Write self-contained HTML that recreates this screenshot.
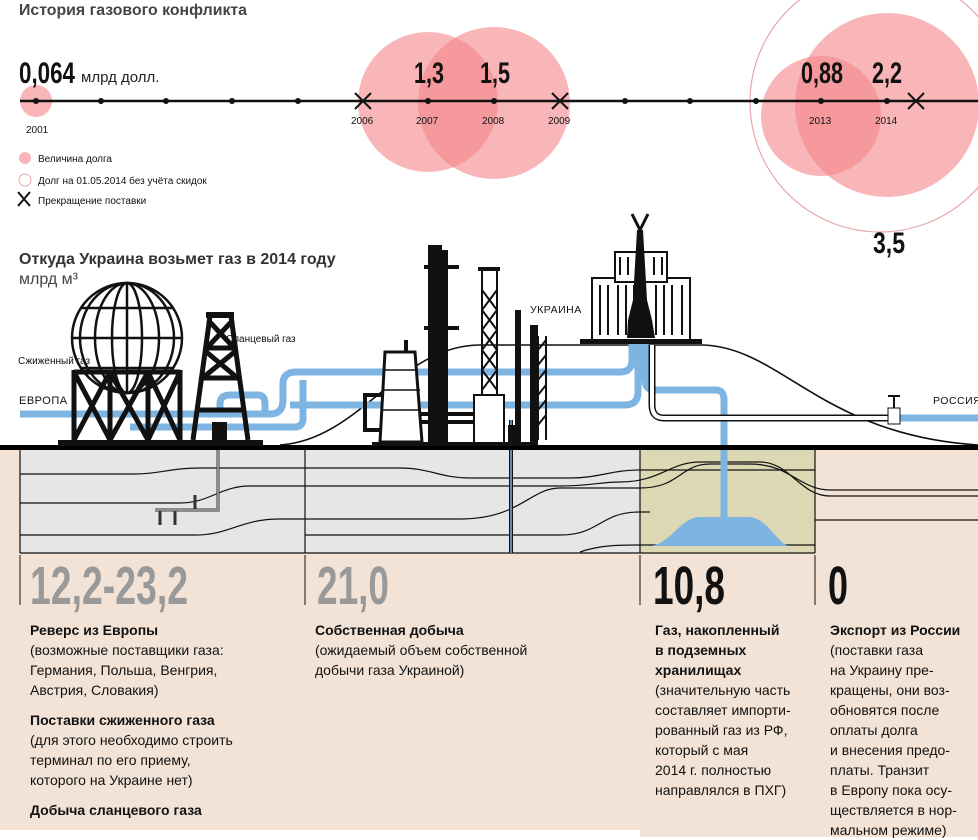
<!DOCTYPE html>
<html><head><meta charset="utf-8"><style>
body{margin:0;width:978px;height:837px;overflow:hidden;background:#fff;font-family:"Liberation Sans",sans-serif;position:relative}
svg{position:absolute;left:0;top:0}
.col{position:absolute;top:620px;font-size:14px;line-height:20px;color:#111}
.col b{display:block}
.col p{margin:0 0 10px 0}
</style></head><body>
<svg width="978" height="837" viewBox="0 0 978 837" font-family="Liberation Sans, sans-serif">
<!-- bottom bg -->
<rect x="0" y="450" width="978" height="387" fill="#f3e3d6"/>
<rect x="0" y="830" width="640" height="7" fill="#fff"/>
<rect x="20" y="450" width="620" height="103" fill="#e6e6e6"/>
<rect x="640" y="450" width="175" height="103" fill="#dcd8b3"/>
<!-- strata -->
<g fill="none" stroke="#111" stroke-width="1.2">
<path d="M20 474 H135 C160 474 170 468 200 468 H305 H400 C430 468 440 478 470 478 H570 C600 478 610 470 640 470 H815"/>
<path d="M20 503 H180 C210 503 220 486 250 486 H305 H560 C590 486 600 482 620 482 C660 482 670 462 700 462 H760 C790 462 800 496 830 496 H978"/>
<path d="M20 535 H195 C230 535 240 519 280 519 H305 H460 C520 519 530 488 560 488 H640 C680 488 680 464 710 464 H750 C790 464 800 490 830 490 H978"/>
<path d="M305 535 H560 C600 535 600 512 640 512 H650"/>
<path d="M815 520 H978"/>
<path d="M580 552 C600 545 620 545 640 545 H815"/>
<path d="M20 553 H815"/>
<path d="M20 450 V553 M305 450 V553 M640 450 V553 M815 450 V553"/>
<path d="M20 555 V605 M305 555 V605 M640 555 V605 M815 555 V605" stroke-width="1"/>
</g>
<!-- storage -->
<path d="M648 546 C670 546 680 517 700 517 H748 C768 517 778 546 790 546 Z" fill="#7db4e2"/>
<!-- hill -->
<path d="M280 445 C360 440 400 345 480 345 H700 C780 345 820 435 978 445" fill="none" stroke="#111" stroke-width="1.6"/>
<!-- pipes -->
<g fill="none" stroke="#7db4e2" stroke-width="7" stroke-linecap="butt">
<path d="M20 414 H270 Q283 414 283 400 V384 Q283 372 296 372 H620 Q632 372 632 360 V340"/>
<path d="M130 427 H295 Q303 427 303 418 V380"/>
<path d="M220 414 V404 Q220 395 230 395 H258 Q265 395 265 404 V414"/>
<path d="M290 405 H625 Q638 405 638 392 V340"/>
<path d="M645 340 V380 Q645 390 655 390 H716 Q724 390 724 400 V518"/>
<path d="M900 418 H978"/>
</g>
<path d="M652 345 V405 Q652 418 664 418 H890" fill="none" stroke="#111" stroke-width="7"/>
<path d="M652 345 V405 Q652 418 664 418 H890" fill="none" stroke="#fff" stroke-width="4"/>
<rect x="888" y="408" width="12" height="16" fill="#fff" stroke="#111"/>
<path d="M894 408 V396 M888 396 H900" stroke="#111" stroke-width="2"/>
<!-- shale pipe -->
<path d="M218 430 V510 H155 M195 510 V495 M175 510 V525 M160 510 V525" fill="none" stroke="#333" stroke-width="3"/>
<path d="M218 430 V510 H155" fill="none" stroke="#dfe6ee" stroke-width="1"/>
<path d="M511 420 V553" stroke="#111" stroke-width="4"/>
<path d="M511 420 V553" stroke="#7db4e2" stroke-width="1.5"/>
<!-- ground -->
<rect x="0" y="445" width="978" height="5" fill="#000"/>
<!-- LNG sphere -->
<g fill="none" stroke="#111" stroke-width="2.5">
<circle cx="127" cy="338" r="55"/>
<ellipse cx="127" cy="338" rx="15" ry="55"/>
<ellipse cx="127" cy="338" rx="32" ry="55"/>
<ellipse cx="127" cy="338" rx="47" ry="55"/>
<path d="M127 283 V393 M80 308 H174 M73 338 H181 M80 368 H174"/>
</g>
<g stroke="#111" stroke-width="5" fill="none">
<path d="M74 370 V440 M180 370 V440 M110 370 V440 M148 370 V440"/>
<path d="M74 372 H180 M74 372 L110 440 M110 372 L74 440 M110 372 L148 440 M148 372 L110 440 M148 372 L180 440 M180 372 L148 440"/>
</g>
<rect x="58" y="440" width="205" height="6" fill="#111"/>
<!-- derrick -->
<g stroke="#111" stroke-width="5" fill="none">
<path d="M210 316 L193 440 M231 316 L248 440 M205 348 H236 M201 378 H240 M197 410 H244 M208 320 L236 350 M233 320 L205 350 M204 350 L240 380 M237 350 L200 380"/>
</g>
<rect x="206" y="312" width="28" height="6" fill="#111"/>
<rect x="212" y="422" width="15" height="20" fill="#111"/>
<!-- refinery -->
<g fill="#111">
<rect x="428" y="245" width="14" height="200"/>
<rect x="438" y="250" width="10" height="195"/>
<rect x="424" y="265" width="35" height="4"/>
<rect x="424" y="326" width="35" height="4"/>
<rect x="478" y="267" width="22" height="4"/>
<rect x="372" y="442" width="160" height="4"/>
<rect x="420" y="412" width="60" height="4"/>
<rect x="420" y="420" width="60" height="4"/>
<rect x="365" y="395" width="20" height="35" fill="none" stroke="#111" stroke-width="4"/>
<rect x="404" y="340" width="4" height="14"/>
<rect x="515" y="310" width="6" height="135"/>
<rect x="530" y="325" width="8" height="120"/>
<rect x="508" y="425" width="7" height="20"/>
</g>
<path d="M385 352 H415 L422 442 H380 Z" fill="#fff" stroke="#111" stroke-width="3"/>
<path d="M383 370 H418 M382 390 H420 M381 410 H421" stroke="#111" stroke-width="1.5"/>
<g stroke="#111" stroke-width="2" fill="none">
<path d="M429 250 V440 M441 250 V440"/>
<path d="M482 270 V395 M497 270 V395 M482 290 L497 310 M497 290 L482 310 M482 310 L497 330 M497 310 L482 330 M482 330 L497 350 M497 330 L482 350 M482 350 L497 370 M497 350 L482 370 M482 370 L497 390 M497 370 L482 390"/>
<path d="M538 336 V440 M546 336 V440 M538 350 L546 340 M538 365 L546 355 M538 380 L546 370 M538 395 L546 385 M538 410 L546 400 M538 425 L546 415"/>
</g>
<rect x="474" y="395" width="30" height="48" fill="#fff" stroke="#111" stroke-width="2"/>
<!-- building -->
<rect x="592" y="278" width="98" height="62" fill="#fff" stroke="#111" stroke-width="2"/>
<rect x="615" y="252" width="52" height="30" fill="#fff" stroke="#111" stroke-width="2"/>
<g stroke="#111" stroke-width="2">
<path d="M600 285 V335 M608 285 V335 M618 285 V335 M626 285 V335 M634 285 V335 M656 285 V335 M664 285 V335 M672 285 V335 M682 285 V335 M620 257 V275 M628 257 V275 M654 257 V275 M662 257 V275"/>
</g>
<path d="M637 230 L633 300 L628 320 L627 338 H655 L652 320 L647 300 L643 230 Z" fill="#111"/>
<path d="M640 230 L632 214 M640 230 L648 214" stroke="#111" stroke-width="3"/>
<rect x="580" y="339" width="122" height="5" fill="#111"/>
<!-- labels -->
<g font-size="10" fill="#111">
<text x="18" y="364">Сжиженный газ</text>
<text x="226" y="342">Сланцевый газ</text>
<text x="19" y="404" font-size="11" letter-spacing="0.5">ЕВРОПА</text>
<text x="530" y="313" font-size="10.5" letter-spacing="0.5">УКРАИНА</text>
<text x="933" y="404" font-size="10.5" letter-spacing="0.5">РОССИЯ</text>
</g>
<text x="19" y="264" font-size="16" font-weight="bold" fill="#333">Откуда Украина возьмет газ в 2014 году</text>
<text x="19" y="284" font-size="16" fill="#444">млрд м³</text>
<!-- timeline -->
<text x="19" y="15" font-size="16" font-weight="bold" fill="#444" textLength="228" lengthAdjust="spacingAndGlyphs">История газового конфликта</text>
<g fill="#f4868b" fill-opacity="0.6">
<circle cx="36" cy="101" r="16"/>
<circle cx="428" cy="102" r="70"/>
<circle cx="494" cy="103" r="76"/>
<circle cx="821" cy="116" r="60"/>
<circle cx="887" cy="105" r="92"/>
</g>
<circle cx="880" cy="102" r="130" fill="none" stroke="#e7a6a9" stroke-width="1.2"/>
<line x1="20" y1="101" x2="978" y2="101" stroke="#111" stroke-width="2.5"/>
<g fill="#111">
<circle cx="36" cy="101" r="3"/><circle cx="101" cy="101" r="3"/><circle cx="166" cy="101" r="3"/><circle cx="232" cy="101" r="3"/><circle cx="298" cy="101" r="3"/><circle cx="428" cy="101" r="3"/><circle cx="494" cy="101" r="3"/><circle cx="625" cy="101" r="3"/><circle cx="690" cy="101" r="3"/><circle cx="756" cy="101" r="3"/><circle cx="821" cy="101" r="3"/><circle cx="887" cy="101" r="3"/>
</g>
<g stroke="#111" stroke-width="2">
<path d="M355 93 L371 109 M371 93 L355 109"/>
<path d="M552 93 L568 109 M568 93 L552 109"/>
<path d="M908 93 L924 109 M924 93 L908 109"/>
<path d="M18 192 L30 206 M30 192 L18 206"/>
</g>
<g font-size="10" fill="#111">
<text x="26" y="133">2001</text><text x="351" y="124">2006</text><text x="416" y="124">2007</text><text x="482" y="124">2008</text><text x="548" y="124">2009</text><text x="809" y="124">2013</text><text x="875" y="124">2014</text>
<text x="38" y="162">Величина долга</text>
<text x="38" y="184">Долг на 01.05.2014 без учёта скидок</text>
<text x="38" y="204">Прекращение поставки</text>
</g>
<circle cx="25" cy="158" r="6" fill="#f4868b" fill-opacity="0.6"/>
<circle cx="25" cy="180" r="6" fill="none" stroke="#e7a6a9"/>
<g font-size="30" font-weight="bold" fill="#111">
<text x="19" y="83" textLength="56" lengthAdjust="spacingAndGlyphs">0,064</text>
<text x="414" y="83" textLength="30" lengthAdjust="spacingAndGlyphs">1,3</text>
<text x="480" y="83" textLength="30" lengthAdjust="spacingAndGlyphs">1,5</text>
<text x="801" y="83" textLength="42" lengthAdjust="spacingAndGlyphs">0,88</text>
<text x="872" y="83" textLength="30" lengthAdjust="spacingAndGlyphs">2,2</text>
<text x="873" y="253" textLength="32" lengthAdjust="spacingAndGlyphs">3,5</text>
</g>
<text x="81" y="82" font-size="15" fill="#222">млрд долл.</text>
<!-- big numbers -->
<g font-size="54" font-weight="bold">
<text x="30" y="604" fill="#999" textLength="158" lengthAdjust="spacingAndGlyphs">12,2-23,2</text>
<text x="317" y="604" fill="#999" textLength="72" lengthAdjust="spacingAndGlyphs">21,0</text>
<text x="653" y="604" fill="#111" textLength="72" lengthAdjust="spacingAndGlyphs">10,8</text>
<text x="828" y="604" fill="#111" textLength="20" lengthAdjust="spacingAndGlyphs">0</text>
</g>
</svg>
<div class="col" style="left:30px;width:270px"><p><b>Реверс из Европы</b>(возможные поставщики газа:<br>Германия, Польша, Венгрия,<br>Австрия, Словакия)</p><p><b>Поставки сжиженного газа</b>(для этого необходимо строить<br>терминал по его приему,<br>которого на Украине нет)</p><p><b>Добыча сланцевого газа</b></p></div>
<div class="col" style="left:315px;width:320px"><b>Собственная добыча</b>(ожидаемый объем собственной<br>добычи газа Украиной)</div>
<div class="col" style="left:655px;width:160px"><b>Газ, накопленный<br>в подземных<br>хранилищах</b>(значительную часть<br>составляет импорти-<br>рованный газ из РФ,<br>который с мая<br>2014 г. полностью<br>направлялся в ПХГ)</div>
<div class="col" style="left:830px;width:148px"><b>Экспорт из России</b>(поставки газа<br>на Украину пре-<br>кращены, они воз-<br>обновятся после<br>оплаты долга<br>и внесения предо-<br>платы. Транзит<br>в Европу пока осу-<br>ществляется в нор-<br>мальном режиме)</div>
</body></html>
